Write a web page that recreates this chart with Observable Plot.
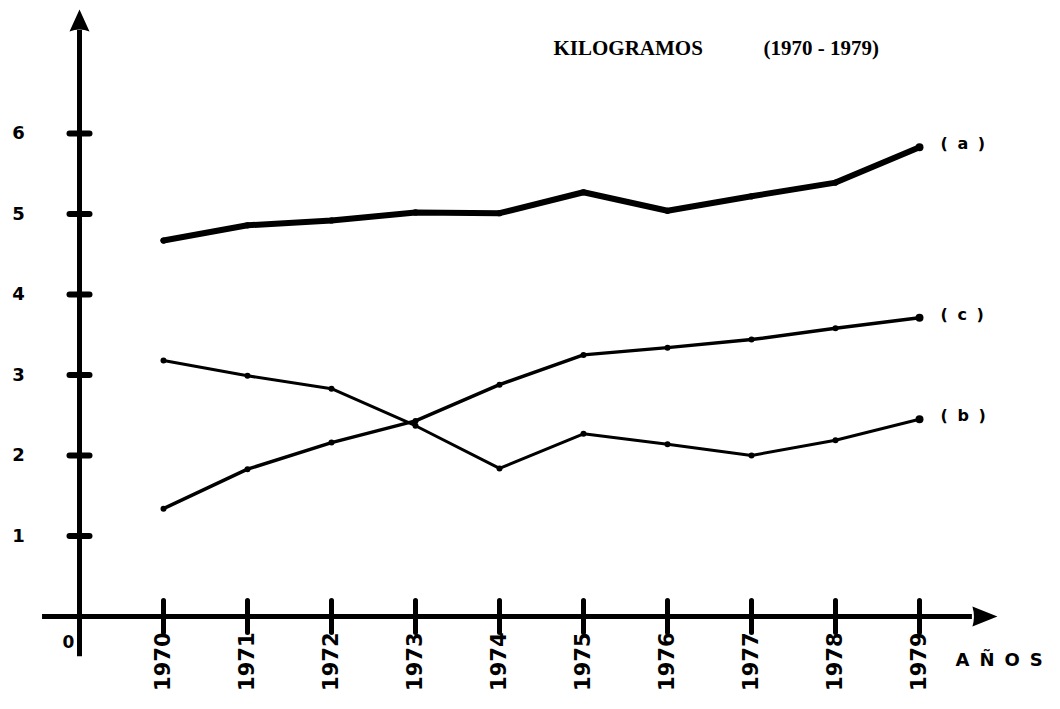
<!DOCTYPE html>
<html>
<head>
<meta charset="utf-8">
<script src="https://cdn.jsdelivr.net/npm/d3@7"></script>
<script src="https://cdn.jsdelivr.net/npm/@observablehq/plot@0.6"></script>
<style>
  html, body { margin: 0; padding: 0; background: #fff; }
  #chart svg { display: block; }
</style>
</head>
<body>
<div id="chart"></div>
<script>
// ---- data ----
const years   = [1970, 1971, 1972, 1973, 1974, 1975, 1976, 1977, 1978, 1979];
const seriesA = [4.67, 4.86, 4.92, 5.02, 5.01, 5.27, 5.04, 5.22, 5.39, 5.83];
const seriesB = [3.18, 2.99, 2.83, 2.37, 1.84, 2.27, 2.14, 2.00, 2.19, 2.45];
const seriesC = [1.34, 1.83, 2.16, 2.43, 2.88, 3.25, 3.34, 3.44, 3.58, 3.71];
const seriesNames  = ["a", "b", "c"];
const seriesLabels = ["( a )", "( b )", "( c )"];
const yTicks = [1, 2, 3, 4, 5, 6];
const titleText = "KILOGRAMOS";
const periodText = "(1970 - 1979)";
const xAxisLabel = "AÑOS";
const originLabel = "0";
// axis geometry (in data units)
const axisYear = 1969;              // vertical axis sits one year before 1970
const xAxisExtent = [1968.56, 1979.63];
const yAxisExtent = [-0.5, 7.28];

// ---- tables built from the arrays ----
const valuesBySeries = {a: seriesA, b: seriesB, c: seriesC};
const rows = seriesNames.flatMap(s => years.map((yr, i) => ({series: s, year: yr, value: valuesBySeries[s][i]})));
const lastRows = seriesNames.map((s, k) => ({series: s, year: years[years.length - 1], value: valuesBySeries[s][years.length - 1], label: seriesLabels[k]}));
const widthOf = {a: 6, b: 3, c: 3.5};

// custom symbols
const hDash = {draw(ctx, size) { const r = Math.sqrt(size / Math.PI); ctx.moveTo(-r, 0); ctx.lineTo(r, 0); }};
const vDash = {draw(ctx, size) { const r = Math.sqrt(size / Math.PI); ctx.moveTo(0, -r); ctx.lineTo(0, r); }};
const arrowUp = {draw(ctx, size) {
  const r = Math.sqrt(size / Math.PI);
  ctx.moveTo(0, -2.1 * r); ctx.lineTo(r, 0.1 * r); ctx.quadraticCurveTo(0, -0.3 * r, -r, 0.1 * r); ctx.closePath();
}};
const arrowRight = {draw(ctx, size) {
  const r = Math.sqrt(size / Math.PI);
  ctx.moveTo(2.5 * r, 0); ctx.lineTo(0, -r); ctx.quadraticCurveTo(0.3 * r, 0, 0, r); ctx.closePath();
}};

const tickFont = "'DejaVu Sans', sans-serif";

const chart = Plot.plot({
  width: 1060,
  height: 709,
  marginLeft: 79,
  marginRight: 141,
  marginTop: 133,
  marginBottom: 93,
  style: {background: "#fff", overflow: "visible"},
  x: {domain: [axisYear, 1979], axis: null},
  y: {domain: [0, 6], axis: null},
  marks: [
    // axes lines
    Plot.ruleX([axisYear], {y1: yAxisExtent[0], y2: yAxisExtent[1], stroke: "#000", strokeWidth: 5}),
    Plot.ruleY([0], {x1: xAxisExtent[0], x2: xAxisExtent[1], stroke: "#000", strokeWidth: 5}),
    // arrowheads
    Plot.dot([yAxisExtent[1]], {x: axisYear, y: d => d, symbol: arrowUp, r: 10, fill: "#000", stroke: "none"}),
    Plot.dot([xAxisExtent[1]], {x: d => d, y: 0, symbol: arrowRight, r: 10, fill: "#000", stroke: "none"}),
    // y ticks + labels
    Plot.dot(yTicks, {x: axisYear, y: d => d, symbol: hDash, r: 10, stroke: "#000", strokeWidth: 6, fill: "none", strokeLinecap: "round"}),
    Plot.text(yTicks, {x: axisYear, y: d => d, text: d => String(d), dx: -61, fontSize: 18, fontWeight: "bold", fontFamily: tickFont, fill: "#000"}),
    // x ticks + labels
    Plot.dot(years, {x: d => d, y: 0, symbol: vDash, r: 16, stroke: "#000", strokeWidth: 5, fill: "none", strokeLinecap: "round"}),
    Plot.text(years, {x: d => d, y: 0, text: d => String(d), rotate: -90, textAnchor: "end", dy: 16, fontSize: 21, fontWeight: "bold", fontFamily: tickFont, fill: "#000"}),
    Plot.text([originLabel], {x: axisYear, y: 0, text: d => d, dx: -11, dy: 26, fontSize: 17, fontWeight: "bold", fontFamily: tickFont, fill: "#000"}),
    Plot.text([xAxisLabel], {x: 1979, y: 0, text: d => d, dx: 36, dy: 44, textAnchor: "start", fontSize: 18, fontWeight: "bold", fontFamily: tickFont, fill: "#000"}),
    // title
    Plot.text([titleText], {frameAnchor: "top-left", text: d => d, dx: 474, dy: -93, textAnchor: "start", fontSize: 21, fontWeight: "bold", fontFamily: "'Liberation Serif', serif", fill: "#000"}),
    Plot.text([periodText], {frameAnchor: "top-left", text: d => d, dx: 684, dy: -93, textAnchor: "start", fontSize: 21, fontWeight: "bold", fontFamily: "'Liberation Serif', serif", fill: "#000"}),
    // series lines
    ...seriesNames.map(s => Plot.line(rows.filter(r => r.series === s), {x: "year", y: "value", stroke: "#000", strokeWidth: widthOf[s], strokeLinecap: "round", strokeLinejoin: "round"})),
    Plot.dot(rows, {x: "year", y: "value", r: d => d.series === "a" ? 3.5 : 3.2, fill: "#000", stroke: "none"}),
    Plot.dot(lastRows, {x: "year", y: "value", r: 4, fill: "#000", stroke: "none"}),
    // series labels
    Plot.text(lastRows, {x: "year", y: "value", text: "label", dx: 21, dy: -3, textAnchor: "start", fontSize: 16, fontWeight: "bold", fontFamily: tickFont, fill: "#000"})
  ]
});
// letter spacing for the hand-lettered labels
d3.select(chart).selectAll("text")
  .filter(function () { return this.textContent === xAxisLabel; })
  .attr("letter-spacing", 10).style("letter-spacing", "10px");
d3.select(chart).selectAll("text")
  .filter(function () { return seriesLabels.includes(this.textContent); })
  .attr("letter-spacing", 2).style("letter-spacing", "2px");
document.getElementById("chart").appendChild(chart);
</script>
</body>
</html>
